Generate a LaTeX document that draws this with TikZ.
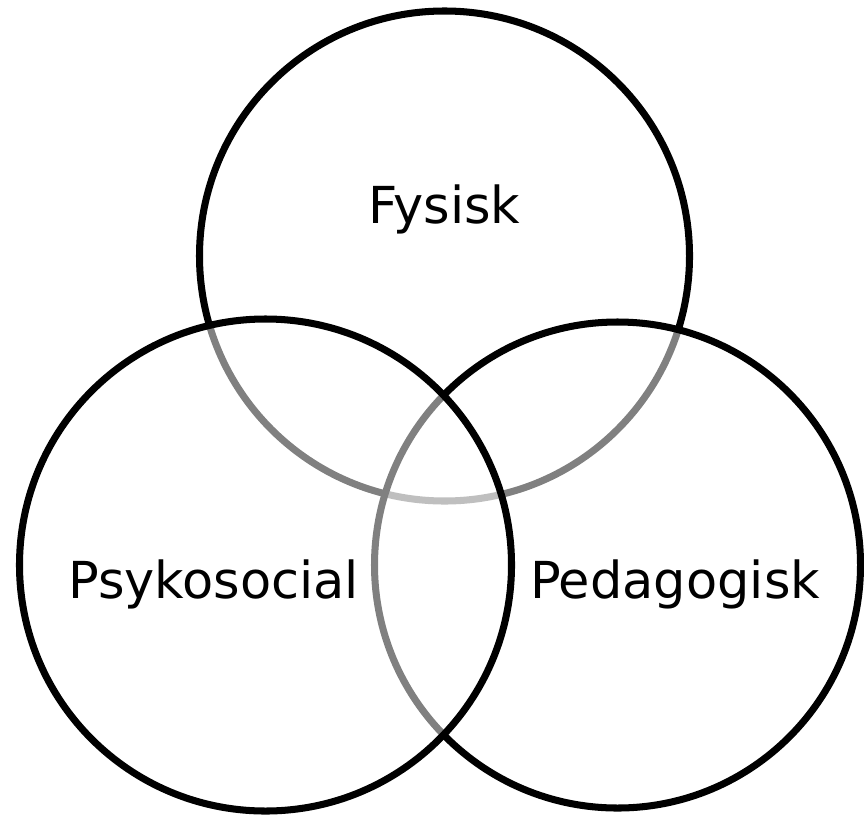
\documentclass[tikz,border=0pt]{standalone}
\usepackage{fontspec}
\setmainfont{DejaVu Sans}

\begin{document}
\begin{tikzpicture}[ring/.style={draw,line width=2pt,fill=white,fill opacity=0.5},
        lbl/.style={font=\fontsize{14.5}{17}\selectfont}]
        \useasboundingbox(0,0)rectangle(8.64,8.19);
        \draw[ring](4.445,5.63)circle(2.45);
        \draw[ring](6.175,2.54)circle(2.43);
        \draw[ring](2.655,2.54)circle(2.46);

        \node[lbl](fys)at(4.445,6.1){Fysisk};
        \node[lbl](psy)at(2.135,2.35){Psykosocial};
        \node[lbl](ped)at(6.75,2.35){Pedagogisk};
    \end{tikzpicture}
\end{document}
